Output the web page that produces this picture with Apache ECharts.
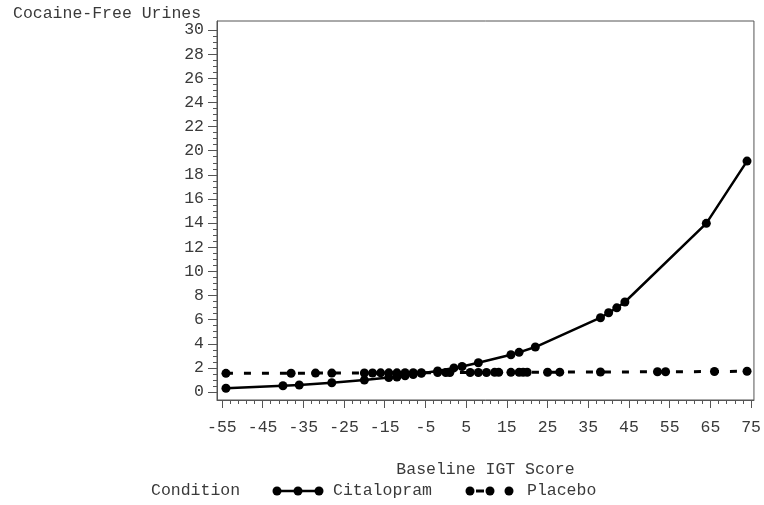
<!DOCTYPE html>
<html>
<head>
<meta charset="utf-8">
<script src="https://cdn.jsdelivr.net/npm/echarts@6/dist/echarts.min.js"></script>
<style>
html,body{margin:0;padding:0;background:#fff;}
#chart{width:764px;height:505px;}
</style>
</head>
<body>
<div id="chart"></div>
<script>
// ---- data ----
const citalopramX = [-54, -40, -36, -28, -20, -14, -12, -10, -8, -6, -2, 2, 4, 8, 16, 18, 22, 38, 40, 42, 44, 64, 74];
const citalopramY = [0.31, 0.52, 0.58, 0.77, 0.99, 1.2, 1.25, 1.35, 1.45, 1.55, 1.74, 2.0, 2.12, 2.43, 3.09, 3.29, 3.73, 6.16, 6.57, 6.98, 7.46, 13.98, 19.14];
const placeboX = [-54, -38, -32, -28, -20, -18, -16, -14, -12, -10, -8, -6, -2, 0, 1, 6, 8, 10, 12, 13, 16, 18, 19, 20, 25, 28, 38, 52, 54, 66, 74];
const placeboY = [1.55, 1.56, 1.57, 1.57, 1.58, 1.58, 1.59, 1.59, 1.59, 1.6, 1.6, 1.6, 1.61, 1.61, 1.62, 1.62, 1.62, 1.62, 1.63, 1.63, 1.63, 1.63, 1.64, 1.64, 1.64, 1.65, 1.66, 1.68, 1.68, 1.7, 1.72];
const xMajorTicks = [-55, -45, -35, -25, -15, -5, 5, 15, 25, 35, 45, 55, 65, 75];
const xMinorTicks = [];
for (let v = -55; v <= 75; v += 2) xMinorTicks.push(v);
const yMajorTicks = [0, 2, 4, 6, 8, 10, 12, 14, 16, 18, 20, 22, 24, 26, 28, 30];
const yMinorTicks = [];
for (let v = 0; v <= 30; v += 0.5) yMinorTicks.push(v);
const seriesNames = ['Citalopram', 'Placebo'];

const FONT = 'Liberation Mono';
const FS = 16.5;
const TXT = '#3a3a3a';
const AX = '#555';

const chart = echarts.init(document.getElementById('chart'), null, {renderer: 'canvas'});
const xMin = -56.2, xMax = 75.7, yMin = -0.66, yMax = 30.75;

const option = {
  animation: false,
  backgroundColor: '#fff',
  grid: {left: 217, right: 6, top: 21, bottom: 105, show: true, borderColor: AX, borderWidth: 1, backgroundColor: 'transparent'},
  xAxis: [
    {
      type: 'value', min: xMin, max: xMax,
      name: 'Baseline IGT Score', nameLocation: 'middle', nameGap: 61,
      nameTextStyle: {fontFamily: FONT, fontSize: FS, color: TXT},
      axisLine: {show: true, onZero: false, lineStyle: {color: AX, width: 1}},
      axisTick: {show: true, length: 8, customValues: xMajorTicks, lineStyle: {color: AX}},
      axisLabel: {show: true, customValues: xMajorTicks, margin: 19, fontFamily: FONT, fontSize: FS, color: TXT},
      splitLine: {show: false}
    },
    {
      type: 'value', min: xMin, max: xMax, position: 'bottom',
      axisLine: {show: false, onZero: false},
      axisTick: {show: true, length: 4, customValues: xMinorTicks, lineStyle: {color: AX}},
      axisLabel: {show: false},
      splitLine: {show: false}
    }
  ],
  yAxis: [
    {
      type: 'value', min: yMin, max: yMax,
      axisLine: {show: true, onZero: false, lineStyle: {color: AX, width: 1}},
      axisTick: {show: true, length: 9, customValues: yMajorTicks, lineStyle: {color: AX}},
      axisLabel: {show: true, customValues: yMajorTicks, margin: 13, fontFamily: FONT, fontSize: FS, color: TXT},
      splitLine: {show: false}
    },
    {
      type: 'value', min: yMin, max: yMax, position: 'left',
      axisLine: {show: false, onZero: false},
      axisTick: {show: true, length: 4, customValues: yMinorTicks, lineStyle: {color: AX}},
      axisLabel: {show: false},
      splitLine: {show: false}
    }
  ],
  series: [
    {
      name: seriesNames[0], type: 'line', xAxisIndex: 0, yAxisIndex: 0,
      data: citalopramX.map((x, i) => [x, citalopramY[i]]),
      symbol: 'circle', symbolSize: 9, showAllSymbol: true,
      itemStyle: {color: '#000'},
      lineStyle: {color: '#000', width: 2.5},
      z: 3
    },
    {
      name: seriesNames[1], type: 'line', xAxisIndex: 0, yAxisIndex: 0,
      data: placeboX.map((x, i) => [x, placeboY[i]]),
      symbol: 'circle', symbolSize: 9, showAllSymbol: true,
      itemStyle: {color: '#000'},
      lineStyle: {color: '#000', width: 3, type: [7, 11]},
      z: 2
    }
  ],
  graphic: [
    {type: 'text', left: 13, top: 5, style: {text: 'Cocaine-Free Urines', fontFamily: FONT, fontSize: FS, fill: TXT}},
    {type: 'text', left: 151, top: 482, style: {text: 'Condition', fontFamily: FONT, fontSize: FS, fill: TXT}},
    {type: 'line', shape: {x1: 277, y1: 491, x2: 319, y2: 491}, style: {stroke: '#000', lineWidth: 2.5}},
    {type: 'circle', shape: {cx: 277, cy: 491, r: 4.5}, style: {fill: '#000'}},
    {type: 'circle', shape: {cx: 298, cy: 491, r: 4.5}, style: {fill: '#000'}},
    {type: 'circle', shape: {cx: 319, cy: 491, r: 4.5}, style: {fill: '#000'}},
    {type: 'text', left: 333, top: 482, style: {text: seriesNames[0], fontFamily: FONT, fontSize: FS, fill: TXT}},
    {type: 'line', shape: {x1: 476, y1: 491, x2: 484, y2: 491}, style: {stroke: '#000', lineWidth: 3}},
    {type: 'circle', shape: {cx: 470, cy: 491, r: 4.5}, style: {fill: '#000'}},
    {type: 'circle', shape: {cx: 490, cy: 491, r: 4.5}, style: {fill: '#000'}},
    {type: 'circle', shape: {cx: 509, cy: 491, r: 4.5}, style: {fill: '#000'}},
    {type: 'text', left: 527, top: 482, style: {text: seriesNames[1], fontFamily: FONT, fontSize: FS, fill: TXT}}
  ]
};
chart.setOption(option);
</script>
</body>
</html>
